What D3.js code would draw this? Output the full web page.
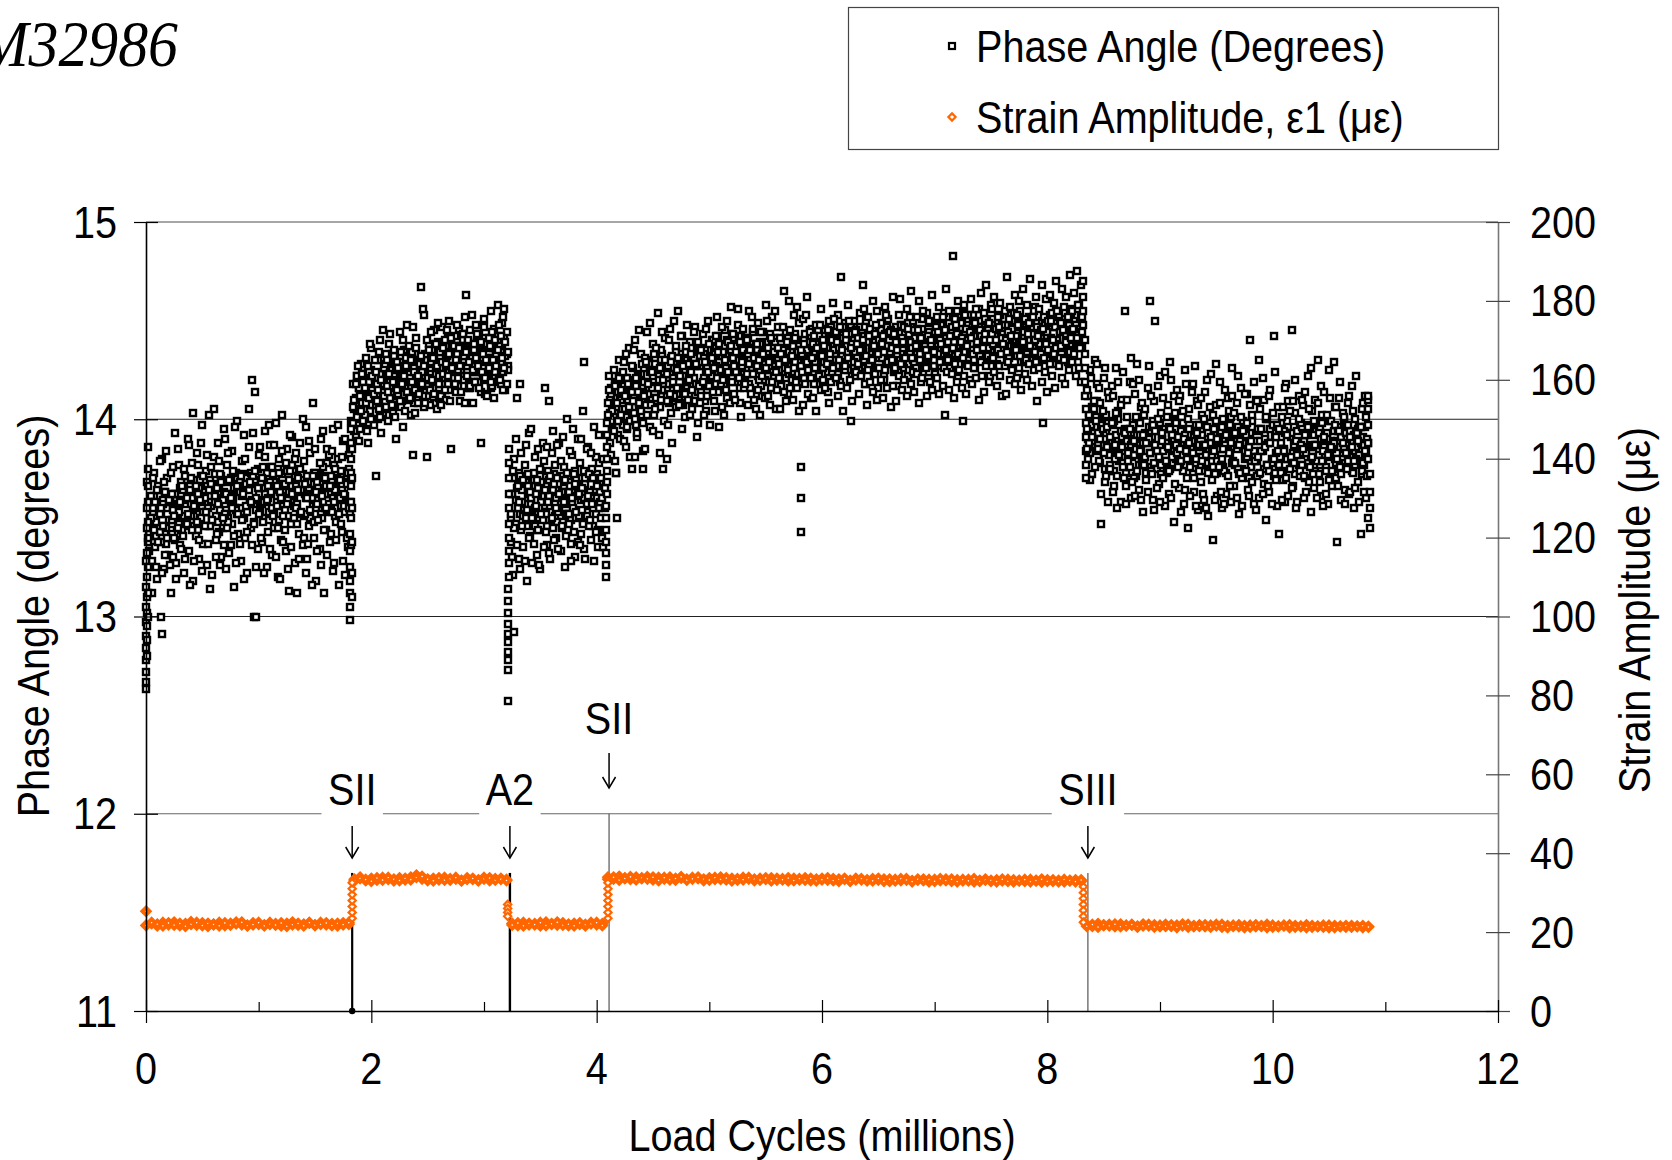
<!DOCTYPE html>
<html><head><meta charset="utf-8">
<script src="https://cdn.jsdelivr.net/npm/d3@7/dist/d3.min.js"></script>
<style>html,body{margin:0;padding:0;background:#fff}svg{display:block}</style>
</head><body><svg id="chart" width="1672" height="1160"></svg>
<script>
// ---------------- DATA ----------------
const specimenLabel = "M32986";
const legendLabels = ["Phase Angle (Degrees)", "Strain Amplitude, \u03b51 (\u03bc\u03b5)"];
const xTicks = [0, 2, 4, 6, 8, 10, 12];
const xMinorTicks = [1, 3, 5, 7, 9, 11];
const phaseTicks = [11, 12, 13, 14, 15];
const strainTicks = [0, 20, 40, 60, 80, 100, 120, 140, 160, 180, 200];
const phaseGrid = [14, 13, 12];
const annotCycles = [1.83, 3.23, 4.11, 8.36];
const annotLabels = ["SII", "A2", "SII", "SIII"];

// Phase angle (degrees) vs load cycles (millions)
const cyclesA = [0.03,0.04,0.05,0.06,0.07,0.08,0.09,0.10,0.11,0.12,
0.13,0.14,0.15,0.16,0.17,0.18,0.19,0.20,0.21,0.22,
0.23,0.24,0.25,0.26,0.27,0.28,0.29,0.30,0.31,0.32,
0.33,0.34,0.35,0.36,0.37,0.38,0.39,0.40,0.41,0.42,
0.43,0.44,0.45,0.46,0.47,0.48,0.49,0.50,0.51,0.52,
0.53,0.54,0.55,0.56,0.57,0.58,0.59,0.60,0.61,0.62,
0.63,0.64,0.65,0.66,0.67,0.68,0.69,0.70,0.71,0.72,
0.73,0.74,0.75,0.76,0.77,0.78,0.79,0.80,0.81,0.82,
0.83,0.84,0.85,0.86,0.87,0.88,0.89,0.90,0.91,0.92,
0.93,0.94,0.95,0.96,0.97,0.98,0.99,1.00,1.01,1.02,
1.03,1.04,1.05,1.06,1.07,1.08,1.09,1.10,1.11,1.12,
1.13,1.14,1.15,1.16,1.17,1.18,1.19,1.20,1.21,1.22,
1.23,1.24,1.25,1.26,1.27,1.28,1.29,1.30,1.31,1.32,
1.33,1.34,1.35,1.36,1.37,1.38,1.39,1.40,1.41,1.42,
1.43,1.44,1.45,1.46,1.47,1.48,1.49,1.50,1.51,1.52,
1.53,1.54,1.55,1.56,1.57,1.58,1.59,1.60,1.61,1.62,
1.63,1.64,1.65,1.66,1.67,1.68,1.69,1.70,1.71,1.72,
1.73,1.74,1.75,1.76,1.77,1.78,1.79,1.80,1.81,1.82];
const phaseA1 = [13.42,13.61,13.28,13.55,13.73,13.35,13.48,13.19,13.66,13.52,
13.38,13.80,13.57,13.24,13.63,13.45,13.70,13.31,13.58,13.12,
13.49,13.76,13.40,13.62,13.27,13.85,13.53,13.36,13.68,13.44,
13.59,13.22,13.71,13.47,13.90,13.33,13.64,13.51,13.78,13.18,
13.56,13.41,13.83,13.62,13.29,13.69,13.50,13.97,13.37,13.60,
13.74,13.26,13.55,14.02,13.46,13.67,13.21,13.81,13.58,13.39,
13.65,13.88,13.43,13.72,13.30,13.59,13.95,13.52,13.24,13.77,
13.48,13.69,13.36,13.84,13.61,13.15,13.73,13.54,13.99,13.42,
13.63,13.28,13.79,13.50,13.92,13.40,13.67,13.22,13.86,13.57,
13.45,14.20,13.71,13.00,14.14,13.60,13.34,13.82,13.53,13.68,
13.38,13.76,13.58,13.94,13.25,13.66,13.49,13.87,13.62,13.31,
13.72,13.45,13.98,13.56,13.20,13.80,13.63,13.39,14.02,13.51,
13.67,13.33,13.85,13.59,13.13,13.74,13.47,13.91,13.61,13.27,
13.55,13.12,13.70,13.42,13.88,13.64,13.36,13.79,13.52,13.96,
13.29,13.68,13.46,13.83,13.60,14.08,13.40,13.73,13.18,13.57,
13.65,13.34,13.90,13.50,13.76,13.12,13.62,13.44,13.85,13.57,
13.38,13.71,13.53,13.95,13.27,13.64,13.48,13.80,13.16,13.60,
13.74,13.43,13.89,13.56,13.21,13.67,13.35,13.82,13.52,13.99];
const phaseA2 = [13.33,13.50,13.12,13.70,13.44,13.58,13.25,13.64,13.38,13.79,
13.55,13.22,13.46,13.68,13.31,13.84,13.40,13.59,13.26,13.73,
13.62,13.30,13.51,13.93,13.19,13.45,13.77,13.58,13.34,13.66,
13.41,13.75,13.29,13.60,13.52,13.87,13.16,13.70,13.44,14.03,
13.28,13.66,13.48,13.77,13.39,13.59,13.88,13.23,13.71,13.46,
13.53,13.82,13.37,13.64,13.14,13.76,13.49,14.05,13.61,13.30,
13.42,13.57,13.79,13.26,13.68,13.50,13.36,13.90,13.62,13.45,
13.83,13.32,13.60,13.55,13.74,13.41,13.96,13.27,13.66,13.52,
13.37,13.71,13.49,13.62,13.19,13.80,13.56,13.43,14.05,13.68,
13.58,13.36,13.93,13.47,13.74,13.25,13.65,13.52,13.86,13.40,
13.70,13.48,13.22,13.81,13.59,13.43,13.97,13.34,13.63,13.76,
13.51,13.87,13.30,13.66,13.45,13.73,13.19,13.60,13.84,13.38,
13.44,13.78,13.57,13.24,13.69,13.92,13.35,13.62,13.50,13.80,
13.83,13.47,13.64,13.29,13.75,13.53,14.00,13.40,13.67,13.22,
13.60,13.37,13.89,13.54,13.16,13.71,13.48,13.85,13.63,13.33,
13.49,13.78,13.26,13.61,13.94,13.44,13.70,13.55,13.31,13.82,
13.66,13.42,13.84,13.23,13.58,13.75,13.39,13.97,13.52,13.69,
13.47,13.81,13.28,13.62,13.90,13.40,13.73,13.55,13.85,13.36];
const phaseA3 = [13.45,13.58,13.38,13.53,13.61,13.48,13.41,13.56,13.64,13.43,
13.52,13.40,13.59,13.46,13.63,13.37,13.55,13.49,13.60,13.44,
13.42,13.54,13.62,13.39,13.51,13.57,13.47,13.65,13.44,13.59,
13.64,13.51,13.57,13.68,13.46,13.62,13.66,13.49,13.60,13.54,
13.69,13.55,13.63,13.44,13.65,13.50,13.71,13.58,13.53,13.61,
13.53,13.66,13.46,13.61,13.69,13.56,13.49,13.64,13.72,13.51,
13.60,13.48,13.67,13.54,13.71,13.45,13.63,13.57,13.68,13.52,
13.50,13.62,13.70,13.47,13.59,13.65,13.55,13.73,13.52,13.67,
13.68,13.55,13.61,13.72,13.50,13.66,13.70,13.53,13.64,13.58,
13.73,13.59,13.67,13.48,13.69,13.54,13.75,13.62,13.57,13.65,
13.57,13.70,13.50,13.65,13.73,13.60,13.53,13.68,13.76,13.55,
13.64,13.52,13.71,13.58,13.75,13.49,13.67,13.61,13.72,13.56,
13.54,13.66,13.74,13.51,13.63,13.69,13.59,13.77,13.56,13.71,
13.66,13.57,13.63,13.74,13.52,13.64,13.72,13.51,13.62,13.60,
13.71,13.61,13.65,13.50,13.67,13.56,13.73,13.64,13.55,13.68,
13.59,13.72,13.52,13.63,13.71,13.62,13.55,13.66,13.78,13.53,
13.62,13.54,13.69,13.60,13.77,13.51,13.65,13.59,13.70,13.58,
13.56,13.64,13.72,13.53,13.61,13.71,13.57,13.75,13.58,13.69];

const cyclesB = [1.84,1.85,1.86,1.87,1.88,1.89,1.90,1.91,1.92,1.93,
1.94,1.95,1.96,1.97,1.98,1.99,2.00,2.01,2.02,2.03,
2.04,2.05,2.06,2.07,2.08,2.09,2.10,2.11,2.12,2.13,
2.14,2.15,2.16,2.17,2.18,2.19,2.20,2.21,2.22,2.23,
2.24,2.25,2.26,2.27,2.28,2.29,2.30,2.31,2.32,2.33,
2.34,2.35,2.36,2.37,2.38,2.39,2.40,2.41,2.42,2.43,
2.44,2.45,2.46,2.47,2.48,2.49,2.50,2.51,2.52,2.53,
2.54,2.55,2.56,2.57,2.58,2.59,2.60,2.61,2.62,2.63,
2.64,2.65,2.66,2.67,2.68,2.69,2.70,2.71,2.72,2.73,
2.74,2.75,2.76,2.77,2.78,2.79,2.80,2.81,2.82,2.83,
2.84,2.85,2.86,2.87,2.88,2.89,2.90,2.91,2.92,2.93,
2.94,2.95,2.96,2.97,2.98,2.99,3.00,3.01,3.02,3.03,
3.04,3.05,3.06,3.07,3.08,3.09,3.10,3.11,3.12,3.13,
3.14,3.15,3.16,3.17,3.18,3.19,3.20,3.21];
const phaseB1 = [13.98,14.10,13.92,14.22,14.05,14.16,13.95,14.28,14.08,14.19,
14.02,14.31,14.12,13.88,14.24,14.07,14.36,14.15,13.97,14.21,
13.71,14.18,14.30,14.05,14.40,13.93,14.14,14.26,14.09,14.33,
14.17,13.99,14.38,14.11,14.25,14.03,14.32,14.20,13.90,14.29,
14.13,14.44,14.06,14.23,13.96,14.35,14.16,14.27,14.48,14.10,
14.21,14.02,14.34,13.82,14.26,14.15,14.41,14.08,14.30,14.19,
14.67,14.24,14.12,14.53,14.33,13.81,14.20,14.38,14.07,14.29,
14.35,14.16,14.45,14.26,14.05,14.39,14.22,14.31,14.12,14.47,
14.23,14.40,14.10,14.32,14.18,14.50,14.27,13.85,14.36,14.21,
14.42,14.14,14.33,14.25,14.46,14.09,14.37,14.20,14.29,14.52,
14.63,14.27,14.39,14.16,14.45,14.31,14.08,14.35,14.24,14.48,
14.30,14.19,14.43,13.88,14.34,14.26,14.51,14.13,14.38,14.22,
14.41,14.28,14.55,14.17,14.36,14.46,14.24,14.33,14.58,14.21,
14.37,14.29,14.49,14.15,14.56,14.32,14.44,14.25];
const phaseB2 = [14.06,13.94,14.18,14.01,14.27,13.89,14.12,14.04,14.23,13.99,
14.16,14.08,13.94,14.27,14.11,14.38,14.00,14.22,14.13,14.30,
14.24,14.09,14.15,14.34,14.01,14.20,14.45,14.12,14.28,14.06,
14.30,14.14,14.23,14.43,14.07,14.19,14.35,14.01,14.26,14.15,
14.26,14.09,14.34,14.18,14.40,14.22,14.04,14.31,14.14,14.37,
14.11,14.30,14.19,14.47,14.24,14.03,14.36,14.22,14.13,14.28,
14.32,14.18,14.56,14.27,14.08,14.40,14.21,14.35,14.15,14.44,
14.20,14.31,14.13,14.38,14.27,14.49,14.18,14.34,14.07,14.29,
14.36,14.15,14.28,14.45,14.22,14.33,14.09,14.41,14.26,14.37,
14.18,14.30,14.48,14.21,14.36,14.27,14.14,14.43,14.32,14.08,
14.34,14.22,14.40,14.29,14.17,14.53,14.25,14.38,14.19,14.31,
14.43,14.27,14.16,14.39,14.24,14.33,14.47,14.21,14.30,14.12,
14.26,14.37,14.19,14.44,14.30,14.11,14.40,14.27,14.35,14.48,
14.20,14.42,14.31,14.52,14.26,14.39,14.18,14.34];
const phaseB3 = [14.18,14.05,14.11,14.22,14.00,14.16,14.20,14.03,14.14,14.08,
14.23,14.09,14.17,13.98,14.19,14.04,14.25,14.12,14.07,14.15,
14.07,14.20,14.00,14.15,14.23,14.10,14.03,14.18,14.26,14.05,
14.22,14.10,14.29,14.16,14.33,14.07,14.25,14.19,14.30,14.14,
14.12,14.24,14.32,14.09,14.21,14.27,14.17,14.35,14.14,14.29,
14.26,14.13,14.19,14.30,14.08,14.24,14.28,14.11,14.22,14.16,
14.31,14.17,14.25,14.06,14.27,14.12,14.33,14.20,14.15,14.23,
14.15,14.28,14.08,14.23,14.31,14.18,14.11,14.26,14.34,14.13,
14.30,14.18,14.37,14.24,14.41,14.15,14.33,14.27,14.38,14.22,
14.20,14.32,14.40,14.17,14.29,14.35,14.25,14.43,14.22,14.37,
14.34,14.21,14.27,14.38,14.16,14.32,14.36,14.19,14.30,14.24,
14.39,14.25,14.33,14.14,14.35,14.20,14.41,14.28,14.23,14.31,
14.23,14.36,14.16,14.31,14.39,14.26,14.19,14.34,14.42,14.21,
14.30,14.18,14.37,14.24,14.41,14.15,14.33,14.27];

const cyclesC = [3.24,3.25,3.26,3.27,3.28,3.29,3.30,3.31,3.32,3.33,
3.34,3.35,3.36,3.37,3.38,3.39,3.40,3.41,3.42,3.43,
3.44,3.45,3.46,3.47,3.48,3.49,3.50,3.51,3.52,3.53,
3.54,3.55,3.56,3.57,3.58,3.59,3.60,3.61,3.62,3.63,
3.64,3.65,3.66,3.67,3.68,3.69,3.70,3.71,3.72,3.73,
3.74,3.75,3.76,3.77,3.78,3.79,3.80,3.81,3.82,3.83,
3.84,3.85,3.86,3.87,3.88,3.89,3.90,3.91,3.92,3.93,
3.94,3.95,3.96,3.97,3.98,3.99,4.00,4.01,4.02,4.03];
const phaseC1 = [13.38,13.62,13.21,13.80,13.47,14.11,13.55,13.29,13.71,13.44,
13.58,13.35,13.77,13.50,13.18,13.66,13.93,13.41,13.60,13.27,
13.73,13.46,13.62,13.31,13.85,13.55,13.24,13.68,13.49,13.79,
14.16,13.52,13.36,13.74,13.61,13.29,13.83,13.45,13.67,13.57,
13.40,13.70,13.53,13.88,13.33,13.63,13.48,13.76,13.25,13.59,
14.00,13.47,13.66,13.37,13.82,13.55,13.72,13.30,13.61,13.90,
13.51,13.78,13.42,13.65,14.04,13.34,13.70,13.57,13.86,13.46,
13.63,13.39,13.75,13.55,13.28,13.81,13.60,13.44,13.92,13.68];
const phaseC2 = [13.52,13.30,13.74,13.45,13.90,13.36,13.66,13.58,13.24,13.83,
13.46,13.69,13.28,13.87,13.54,13.72,13.40,13.63,13.95,13.50,
13.37,13.81,13.56,13.69,13.44,13.26,13.75,13.52,13.88,13.35,
13.64,13.43,13.86,13.58,13.32,13.71,13.50,13.94,13.39,13.77,
13.55,13.87,13.34,13.62,13.79,13.46,13.91,13.58,13.69,13.41,
13.73,13.52,13.84,13.28,13.60,13.95,13.43,13.67,13.53,13.38,
13.62,13.36,13.90,13.54,13.47,13.74,13.29,13.85,13.61,13.72,
13.49,13.83,13.57,13.70,13.96,13.43,13.66,13.35,13.78,13.58];
const phaseC3 = [13.50,13.62,13.70,13.47,13.59,13.65,13.55,13.73,13.52,13.67,
13.64,13.51,13.57,13.68,13.46,13.62,13.66,13.49,13.60,13.54,
13.69,13.55,13.63,13.44,13.65,13.50,13.71,13.58,13.53,13.61,
13.53,13.66,13.46,13.61,13.69,13.56,13.49,13.64,13.72,13.51,
13.60,13.48,13.67,13.54,13.71,13.45,13.63,13.57,13.68,13.52,
13.52,13.63,13.68,13.49,13.57,13.66,13.54,13.74,13.50,13.65,
13.66,13.53,13.59,13.70,13.48,13.60,13.67,13.51,13.62,13.56,
13.70,13.57,13.61,13.46,13.64,13.52,13.72,13.59,13.55,13.63];

const cyclesD = [4.12,4.13,4.14,4.15,4.16,4.17,4.18,4.19,4.20,4.21,
4.22,4.23,4.24,4.25,4.26,4.27,4.28,4.29,4.30,4.31,
4.32,4.33,4.34,4.35,4.36,4.37,4.38,4.39,4.40,4.41,
4.42,4.43,4.44,4.45,4.46,4.47,4.48,4.49,4.50,4.51,
4.52,4.53,4.54,4.55,4.56,4.57,4.58,4.59,4.60,4.61,
4.62,4.63,4.64,4.65,4.66,4.67,4.68,4.69,4.70,4.71,
4.72,4.73,4.74,4.75,4.76,4.77,4.78,4.79,4.80,4.81,
4.82,4.83,4.84,4.85,4.86,4.87,4.88,4.89,4.90,4.91,
4.92,4.93,4.94,4.95,4.96,4.97,4.98,4.99,5.00,5.01,
5.02,5.03,5.04,5.05,5.06,5.07,5.08,5.09,5.10,5.11,
5.12,5.13,5.14,5.15,5.16,5.17,5.18,5.19,5.20,5.21,
5.22,5.23,5.24,5.25,5.26,5.27,5.28,5.29,5.30,5.31,
5.32,5.33,5.34,5.35,5.36,5.37,5.38,5.39,5.40,5.41,
5.42,5.43,5.44,5.45,5.46,5.47,5.48,5.49,5.50,5.51,
5.52,5.53,5.54,5.55,5.56,5.57,5.58,5.59,5.60,5.61,
5.62,5.63,5.64,5.65,5.66,5.67,5.68,5.69,5.70,5.71,
5.72,5.73,5.74,5.75,5.76,5.77,5.78,5.79,5.80,5.81,
5.82,5.83,5.84,5.85,5.86,5.87,5.88,5.89,5.90,5.91,
5.92,5.93,5.94,5.95,5.96,5.97,5.98,5.99,6.00,6.01,
6.02,6.03,6.04,6.05,6.06,6.07,6.08,6.09,6.10,6.11,
6.12,6.13,6.14,6.15,6.16,6.17,6.18,6.19,6.20,6.21,
6.22,6.23,6.24,6.25,6.26,6.27,6.28,6.29,6.30,6.31,
6.32,6.33,6.34,6.35,6.36,6.37,6.38,6.39,6.40,6.41,
6.42,6.43,6.44,6.45,6.46,6.47,6.48,6.49,6.50,6.51,
6.52,6.53,6.54,6.55,6.56,6.57,6.58,6.59,6.60,6.61,
6.62,6.63,6.64,6.65,6.66,6.67,6.68,6.69,6.70,6.71,
6.72,6.73,6.74,6.75,6.76,6.77,6.78,6.79,6.80,6.81,
6.82,6.83,6.84,6.85,6.86,6.87,6.88,6.89,6.90,6.91,
6.92,6.93,6.94,6.95,6.96,6.97,6.98,6.99,7.00,7.01,
7.02,7.03,7.04,7.05,7.06,7.07,7.08,7.09,7.10,7.11,
7.12,7.13,7.14,7.15,7.16,7.17,7.18,7.19,7.20,7.21,
7.22,7.23,7.24,7.25,7.26,7.27,7.28,7.29,7.30,7.31,
7.32,7.33,7.34,7.35,7.36,7.37,7.38,7.39,7.40,7.41,
7.42,7.43,7.44,7.45,7.46,7.47,7.48,7.49,7.50,7.51,
7.52,7.53,7.54,7.55,7.56,7.57,7.58,7.59,7.60,7.61,
7.62,7.63,7.64,7.65,7.66,7.67,7.68,7.69,7.70,7.71,
7.72,7.73,7.74,7.75,7.76,7.77,7.78,7.79,7.80,7.81,
7.82,7.83,7.84,7.85,7.86,7.87,7.88,7.89,7.90,7.91,
7.92,7.93,7.94,7.95,7.96,7.97,7.98,7.99,8.00,8.01,
8.02,8.03,8.04,8.05,8.06,8.07,8.08,8.09,8.10,8.11,
8.12,8.13,8.14,8.15,8.16,8.17,8.18,8.19,8.20,8.21,
8.22,8.23,8.24,8.25,8.26,8.27,8.28,8.29,8.30,8.31];
const phaseD1 = [13.88,14.12,13.95,14.25,13.79,14.06,14.18,13.92,14.30,14.01,
14.15,13.97,14.29,14.05,13.86,14.21,14.10,14.36,13.99,14.14,
14.26,14.03,14.40,14.17,13.91,14.22,14.08,14.33,14.12,13.84,
14.19,14.31,14.07,14.44,14.13,13.96,14.25,14.16,14.38,14.02,
14.28,14.11,14.54,14.20,14.06,14.35,14.15,13.75,14.24,14.41,
14.09,14.27,14.18,14.46,14.03,14.32,14.21,14.12,14.37,14.25,
14.55,14.16,14.30,14.08,14.42,14.22,14.01,14.34,14.19,14.28,
14.13,14.39,14.24,14.05,14.31,14.47,14.18,14.27,13.98,14.35,
14.29,14.12,14.43,14.21,14.36,14.04,14.26,14.50,14.17,14.32,
14.22,14.40,14.09,14.33,14.27,14.52,14.14,14.38,14.25,14.06,
14.34,14.18,14.45,14.26,14.11,14.39,14.29,14.57,14.21,14.31,
14.13,14.37,14.24,14.48,14.30,14.08,14.42,14.27,14.35,14.19,
14.41,14.23,14.33,14.55,14.16,14.36,14.28,14.46,14.10,14.32,
14.27,14.49,14.20,14.38,14.31,14.12,14.44,14.25,14.58,14.34,
14.36,14.19,14.43,14.30,14.52,14.22,14.39,14.05,14.33,14.47,
14.28,14.41,14.17,14.35,14.65,14.26,14.44,14.31,14.13,14.38,
14.45,14.24,14.37,14.53,14.29,14.40,14.16,14.34,14.49,14.27,
14.33,14.51,14.21,14.43,14.30,14.62,14.25,14.39,14.11,14.46,
14.38,14.18,14.34,14.48,14.26,14.42,14.32,14.56,14.23,14.40,
14.29,14.45,14.36,14.14,14.50,14.31,14.41,14.24,14.59,14.35,
14.44,14.27,14.53,14.36,14.19,14.72,14.32,14.47,14.25,14.40,
14.34,14.58,14.29,14.43,13.99,14.38,14.50,14.22,14.45,14.31,
14.41,14.26,14.54,14.35,14.68,14.30,14.47,14.18,14.39,14.52,
14.27,14.46,14.36,14.60,14.24,14.43,14.33,14.55,14.16,14.40,
14.49,14.31,14.42,14.20,14.57,14.37,14.28,14.51,14.34,14.45,
14.36,14.62,14.25,14.44,14.39,14.17,14.53,14.30,14.48,14.41,
14.29,14.47,14.38,14.56,14.22,14.43,14.34,14.65,14.31,14.50,
14.45,14.26,14.52,14.37,14.60,14.33,14.19,14.46,14.40,14.28,
14.35,14.54,14.42,14.24,14.49,14.38,14.63,14.30,14.44,14.21,
14.48,14.33,14.57,14.40,14.27,14.52,14.36,14.45,14.66,14.31,
14.39,14.55,14.30,14.47,14.83,14.36,14.51,14.24,14.43,14.60,
14.34,14.49,14.41,13.99,14.58,14.38,14.46,14.28,14.53,14.44,
14.61,14.35,14.50,14.42,14.26,14.56,14.39,14.47,14.32,14.64,
14.45,14.30,14.54,14.40,14.68,14.36,14.49,14.22,14.58,14.43,
14.38,14.62,14.46,14.33,14.52,14.27,14.59,14.41,14.48,14.35,
14.55,14.40,14.72,14.44,14.31,14.57,14.37,14.50,14.26,14.63,
14.42,14.53,14.35,14.60,14.47,14.39,14.66,14.29,14.51,14.45,
14.58,14.36,14.49,14.71,14.43,14.30,14.55,14.40,14.62,14.47,
14.34,14.56,14.45,14.68,13.98,14.52,14.39,14.61,14.44,14.50,
14.63,14.41,14.54,14.32,14.59,14.47,14.70,14.38,14.53,14.44,
14.49,14.66,14.36,14.57,14.45,14.62,14.29,14.51,14.73,14.42,
14.55,14.40,14.64,14.48,14.75,14.37,14.58,14.46,14.68,14.52];
const phaseD2 = [14.10,13.82,14.04,13.94,14.17,13.73,14.08,13.99,14.21,13.90,
14.02,14.24,13.89,14.12,14.33,13.96,14.18,14.06,13.81,14.27,
14.09,14.35,14.00,14.21,13.93,14.14,14.45,14.04,14.28,13.98,
14.12,13.85,14.29,14.02,14.18,14.49,14.07,14.24,13.94,14.33,
14.05,14.36,14.16,13.92,14.26,14.10,14.44,14.20,13.99,14.30,
14.23,13.97,14.40,14.13,14.29,13.88,14.19,14.50,14.06,14.16,
14.31,14.07,14.22,14.42,13.95,14.27,14.13,14.37,14.48,14.10,
14.20,14.02,14.33,14.15,14.44,14.09,14.28,13.91,14.39,14.17,
14.08,14.35,14.19,14.02,14.29,14.46,14.12,14.24,14.38,13.97,
14.31,14.14,14.26,14.04,14.42,14.21,14.34,13.96,14.18,14.47,
14.20,14.02,14.30,14.15,14.50,14.24,14.08,14.37,14.19,14.43,
14.27,14.10,14.34,14.56,14.21,14.39,14.01,14.29,14.46,14.16,
14.18,14.40,14.07,14.28,14.35,14.13,14.52,14.23,14.31,14.05,
14.38,14.15,14.30,14.02,14.44,14.22,14.33,14.11,14.26,14.50,
14.12,14.29,14.07,14.41,14.19,14.34,14.55,14.24,14.15,14.36,
14.21,14.05,14.33,14.47,14.14,14.30,14.09,14.39,14.25,14.60,
14.16,14.32,14.10,14.26,14.41,14.19,14.57,14.23,14.04,14.35,
14.24,14.07,14.38,14.18,14.53,14.29,14.13,14.44,14.21,14.31,
14.11,14.42,14.26,14.04,14.36,14.22,14.48,14.15,14.32,14.20,
14.37,14.16,14.28,14.45,14.08,14.33,14.19,14.40,14.26,14.51,
14.21,14.39,14.12,14.30,14.47,14.17,14.35,14.04,14.27,14.43,
14.16,14.31,14.50,14.20,14.36,14.09,14.29,14.44,14.24,14.38,
14.28,14.13,14.35,14.22,14.40,14.56,14.18,14.32,14.07,14.25,
14.42,14.19,14.30,14.14,14.37,14.23,14.48,14.10,14.33,14.26,
14.20,14.38,14.11,14.34,14.25,14.53,14.16,14.29,14.44,14.06,
14.30,14.17,14.43,14.26,14.09,14.35,14.22,14.61,14.28,14.15,
14.39,14.20,14.31,14.12,14.46,14.25,14.52,14.18,14.36,14.24,
14.14,14.37,14.23,14.45,14.08,14.30,14.41,14.21,14.55,14.27,
14.26,14.12,14.32,14.50,14.19,14.40,14.15,14.34,14.23,14.47,
14.21,14.44,14.13,14.29,14.38,14.17,14.26,14.02,14.35,14.24,
14.30,14.15,14.42,14.23,14.36,14.11,14.28,14.48,14.19,14.33,
14.25,14.39,14.16,14.31,14.22,14.53,14.13,14.37,14.27,14.20,
14.41,14.18,14.33,14.26,14.49,14.21,14.35,14.10,14.45,14.29,
14.22,14.36,14.14,14.43,14.27,14.32,14.19,14.40,14.30,14.56,
14.31,14.24,14.40,14.17,14.35,14.47,14.22,14.33,14.12,14.38,
14.27,14.13,14.34,14.29,14.51,14.20,14.42,14.25,14.36,14.18,
14.35,14.21,14.48,14.26,14.32,14.15,14.39,14.44,14.23,14.30,
14.20,14.43,14.28,14.37,14.17,14.52,14.25,14.34,14.29,14.09,
14.42,14.26,14.33,14.19,14.46,14.31,14.24,14.38,14.14,14.35,
14.28,14.50,14.22,14.40,14.33,14.16,14.36,14.55,14.27,14.31,
14.37,14.21,14.45,14.30,14.18,14.39,14.52,14.25,14.34,14.41,
14.29,14.46,14.33,14.22,14.41,14.58,14.26,14.36,14.19,14.44];
const phaseD3 = [14.03,14.16,13.96,14.11,14.19,14.06,13.99,14.14,14.22,14.01,
14.10,13.98,14.17,14.04,14.21,13.95,14.13,14.07,14.18,14.02,
14.00,14.12,14.20,13.97,14.09,14.15,14.05,14.23,14.02,14.17,
14.26,14.13,14.19,14.30,14.08,14.24,14.28,14.11,14.22,14.16,
14.31,14.17,14.25,14.06,14.27,14.12,14.33,14.20,14.15,14.23,
14.15,14.28,14.08,14.23,14.31,14.18,14.11,14.26,14.34,14.13,
14.22,14.10,14.29,14.16,14.33,14.07,14.25,14.19,14.30,14.14,
14.12,14.24,14.32,14.09,14.21,14.27,14.17,14.35,14.14,14.29,
14.27,14.14,14.18,14.31,14.09,14.23,14.29,14.12,14.21,14.17,
14.40,14.26,14.34,14.15,14.36,14.21,14.42,14.29,14.24,14.32,
14.24,14.37,14.17,14.32,14.40,14.27,14.20,14.35,14.43,14.22,
14.31,14.19,14.38,14.25,14.42,14.16,14.34,14.28,14.39,14.23,
14.21,14.33,14.41,14.18,14.30,14.36,14.26,14.44,14.23,14.38,
14.35,14.22,14.28,14.39,14.17,14.33,14.37,14.20,14.31,14.25,
14.39,14.27,14.33,14.16,14.37,14.22,14.41,14.30,14.25,14.31,
14.25,14.36,14.18,14.31,14.41,14.28,14.21,14.34,14.42,14.23,
14.30,14.20,14.37,14.26,14.43,14.17,14.33,14.29,14.38,14.24,
14.22,14.32,14.40,14.19,14.31,14.35,14.27,14.45,14.22,14.37,
14.34,14.23,14.29,14.38,14.18,14.32,14.36,14.21,14.30,14.26,
14.46,14.32,14.40,14.21,14.42,14.27,14.48,14.35,14.30,14.38,
14.30,14.43,14.23,14.38,14.46,14.33,14.26,14.41,14.49,14.28,
14.37,14.25,14.44,14.31,14.48,14.22,14.40,14.34,14.45,14.29,
14.27,14.39,14.47,14.24,14.36,14.42,14.32,14.50,14.29,14.44,
14.41,14.28,14.34,14.45,14.23,14.39,14.43,14.26,14.37,14.31,
14.45,14.33,14.39,14.22,14.43,14.28,14.47,14.36,14.31,14.37,
14.31,14.42,14.24,14.37,14.47,14.32,14.27,14.40,14.48,14.29,
14.36,14.26,14.43,14.32,14.49,14.23,14.39,14.35,14.44,14.30,
14.28,14.38,14.46,14.25,14.37,14.41,14.33,14.51,14.28,14.43,
14.40,14.29,14.35,14.44,14.24,14.38,14.42,14.27,14.36,14.32,
14.52,14.38,14.46,14.27,14.48,14.33,14.54,14.41,14.36,14.44,
14.36,14.49,14.29,14.44,14.52,14.39,14.32,14.47,14.55,14.34,
14.43,14.31,14.50,14.37,14.54,14.28,14.46,14.40,14.51,14.35,
14.33,14.45,14.53,14.30,14.42,14.48,14.38,14.56,14.35,14.50,
14.47,14.34,14.40,14.51,14.29,14.45,14.49,14.32,14.43,14.37,
14.51,14.39,14.45,14.28,14.49,14.34,14.53,14.42,14.37,14.43,
14.37,14.48,14.30,14.43,14.53,14.38,14.33,14.46,14.54,14.35,
14.42,14.32,14.49,14.38,14.55,14.29,14.45,14.41,14.50,14.36,
14.34,14.44,14.52,14.31,14.43,14.47,14.39,14.57,14.34,14.49,
14.46,14.35,14.41,14.50,14.30,14.44,14.48,14.33,14.42,14.38,
14.53,14.37,14.47,14.28,14.49,14.34,14.55,14.40,14.37,14.45,
14.37,14.50,14.30,14.45,14.51,14.40,14.33,14.48,14.56,14.35,
14.44,14.32,14.51,14.38,14.53,14.29,14.47,14.41,14.52,14.36];

const cyclesE = [8.36,8.37,8.38,8.39,8.40,8.41,8.42,8.43,8.44,8.45,
8.46,8.47,8.48,8.49,8.50,8.51,8.52,8.53,8.54,8.55,
8.56,8.57,8.58,8.59,8.60,8.61,8.62,8.63,8.64,8.65,
8.66,8.67,8.68,8.69,8.70,8.71,8.72,8.73,8.74,8.75,
8.76,8.77,8.78,8.79,8.80,8.81,8.82,8.83,8.84,8.85,
8.86,8.87,8.88,8.89,8.90,8.91,8.92,8.93,8.94,8.95,
8.96,8.97,8.98,8.99,9.00,9.01,9.02,9.03,9.04,9.05,
9.06,9.07,9.08,9.09,9.10,9.11,9.12,9.13,9.14,9.15,
9.16,9.17,9.18,9.19,9.20,9.21,9.22,9.23,9.24,9.25,
9.26,9.27,9.28,9.29,9.30,9.31,9.32,9.33,9.34,9.35,
9.36,9.37,9.38,9.39,9.40,9.41,9.42,9.43,9.44,9.45,
9.46,9.47,9.48,9.49,9.50,9.51,9.52,9.53,9.54,9.55,
9.56,9.57,9.58,9.59,9.60,9.61,9.62,9.63,9.64,9.65,
9.66,9.67,9.68,9.69,9.70,9.71,9.72,9.73,9.74,9.75,
9.76,9.77,9.78,9.79,9.80,9.81,9.82,9.83,9.84,9.85,
9.86,9.87,9.88,9.89,9.90,9.91,9.92,9.93,9.94,9.95,
9.96,9.97,9.98,9.99,10.00,10.01,10.02,10.03,10.04,10.05,
10.06,10.07,10.08,10.09,10.10,10.11,10.12,10.13,10.14,10.15,
10.16,10.17,10.18,10.19,10.20,10.21,10.22,10.23,10.24,10.25,
10.26,10.27,10.28,10.29,10.30,10.31,10.32,10.33,10.34,10.35,
10.36,10.37,10.38,10.39,10.40,10.41,10.42,10.43,10.44,10.45,
10.46,10.47,10.48,10.49,10.50,10.51,10.52,10.53,10.54,10.55,
10.56,10.57,10.58,10.59,10.60,10.61,10.62,10.63,10.64,10.65,
10.66,10.67,10.68,10.69,10.70,10.71,10.72,10.73,10.74,10.75,
10.76,10.77,10.78,10.79,10.80,10.81,10.82,10.83,10.84,10.85];
const phaseE1 = [14.12,13.88,14.25,13.97,13.72,14.05,14.30,13.84,14.18,13.93,
13.79,14.08,13.47,13.95,14.21,13.68,14.02,13.86,14.14,13.74,
13.91,14.17,13.63,13.99,13.80,14.26,13.71,14.04,13.87,13.58,
14.10,13.76,13.94,14.55,13.66,14.01,13.83,14.19,13.60,13.89,
13.97,13.70,14.13,13.85,14.28,13.64,13.92,14.06,13.78,13.53,
14.02,13.81,13.69,14.16,13.90,14.60,13.74,13.96,13.59,14.09,
14.50,13.84,14.00,13.67,14.22,13.77,13.93,14.11,13.56,13.88,
13.73,14.07,13.62,13.95,14.20,13.81,13.48,14.03,13.87,14.15,
13.91,13.65,14.12,13.79,13.98,13.57,14.25,13.84,13.70,13.45,
14.05,13.76,13.89,14.18,13.63,13.94,13.80,14.09,13.54,13.97,
13.68,14.02,13.86,13.59,14.14,13.78,13.96,13.51,13.88,14.23,
13.82,13.39,13.95,13.72,14.07,13.61,13.90,14.19,13.77,13.55,
14.00,13.74,13.87,13.62,14.11,13.83,13.97,13.58,14.26,13.79,
13.66,13.93,14.08,13.75,13.52,13.89,14.16,13.70,13.99,13.84,
13.92,14.13,13.64,13.86,14.40,13.76,14.02,13.57,13.81,14.10,
13.71,13.95,13.60,14.05,13.84,14.21,13.67,13.90,13.49,14.00,
13.88,13.63,14.15,13.78,13.97,14.42,13.73,13.91,13.56,14.06,
13.42,13.85,14.01,13.69,13.94,13.58,14.18,13.80,14.09,13.75,
13.93,14.45,13.66,13.87,14.03,13.55,13.82,14.12,13.71,13.98,
13.77,14.07,13.60,13.92,13.83,14.22,13.68,13.96,13.53,14.04,
13.86,13.65,14.10,13.79,14.30,13.72,13.95,13.61,14.02,13.84,
14.14,13.74,13.90,13.57,14.25,13.81,13.99,13.66,13.88,14.06,
13.70,13.38,13.94,14.11,13.76,13.59,14.03,13.85,13.64,13.97,
13.83,14.08,13.62,13.91,14.17,13.73,13.55,14.00,13.80,13.93,
13.68,13.96,13.42,14.05,13.78,13.87,14.12,13.60,13.90,13.50];
const phaseE2 = [13.80,14.02,13.69,14.21,13.91,14.09,13.76,13.99,14.28,13.85,
14.16,13.90,13.62,14.04,13.83,14.26,13.71,13.96,13.58,14.11,
13.75,13.98,14.12,13.66,13.87,14.03,13.55,14.19,13.82,14.07,
13.86,14.24,13.70,13.93,13.57,14.10,13.79,13.95,14.31,13.68,
14.18,13.89,13.61,14.01,13.74,14.20,13.84,13.59,14.08,13.92,
13.77,14.05,13.88,13.63,14.27,13.83,14.12,13.72,13.97,13.54,
13.94,13.65,14.17,13.81,13.58,14.03,13.89,13.70,14.24,13.79,
14.01,13.86,13.74,14.29,13.60,13.92,14.12,13.67,13.98,13.83,
13.76,14.09,13.85,13.53,14.04,13.90,13.64,14.18,13.80,14.00,
13.88,13.61,14.14,13.83,13.70,14.27,13.56,13.93,14.07,13.74,
14.11,13.79,13.62,14.00,13.87,13.55,14.20,13.73,14.06,13.91,
13.69,14.02,13.84,13.59,14.28,13.90,13.76,14.08,13.63,13.96,
13.85,13.57,14.15,13.92,13.71,14.04,13.66,13.88,14.12,13.78,
14.03,13.78,13.60,14.22,13.87,13.73,14.01,13.56,13.94,14.13,
13.74,13.98,13.83,13.61,14.07,13.89,13.68,14.19,13.79,13.54,
14.09,13.81,14.30,13.73,13.95,13.62,14.10,13.86,14.01,13.77,
13.66,14.12,13.88,13.57,14.03,13.80,14.24,13.69,13.97,13.84,
13.95,13.73,13.59,14.06,13.84,14.16,13.70,13.92,13.61,14.04,
13.81,13.65,14.09,13.78,14.20,13.89,13.58,14.00,13.74,13.87,
14.10,13.85,13.71,14.14,13.63,13.96,14.05,13.76,14.26,13.81,
13.72,13.99,13.87,13.60,14.08,13.93,13.68,14.17,13.79,13.56,
13.91,13.62,14.02,13.82,13.69,14.11,13.86,13.74,14.29,13.97,
14.06,13.80,13.66,13.94,14.19,13.72,13.88,14.01,13.57,13.83,
13.75,13.97,14.12,13.63,13.86,14.04,13.79,13.65,14.22,13.90,
13.89,13.58,13.96,13.74,14.08,13.63,13.84,14.01,13.71,14.10];
const phaseE3 = [13.90,14.03,13.83,13.98,14.06,13.93,13.86,14.01,14.09,13.88,
13.90,13.78,13.97,13.84,14.01,13.75,13.93,13.87,13.98,13.82,
13.77,13.89,13.97,13.74,13.86,13.92,13.82,14.00,13.79,13.94,
13.91,13.78,13.84,13.95,13.73,13.89,13.93,13.76,13.87,13.81,
13.96,13.82,13.90,13.71,13.92,13.77,13.98,13.85,13.80,13.88,
13.80,13.93,13.73,13.88,13.96,13.83,13.76,13.91,13.99,13.78,
13.87,13.75,13.94,13.81,13.98,13.72,13.90,13.84,13.95,13.79,
13.78,13.88,13.96,13.75,13.85,13.93,13.81,13.99,13.80,13.92,
13.90,13.79,13.85,13.94,13.74,13.88,13.92,13.77,13.86,13.82,
13.95,13.83,13.89,13.72,13.91,13.78,13.97,13.86,13.81,13.87,
13.81,13.92,13.74,13.87,13.97,13.82,13.77,13.90,13.98,13.79,
13.86,13.76,13.93,13.82,13.99,13.73,13.89,13.85,13.94,13.80,
13.76,13.90,13.96,13.73,13.87,13.91,13.83,14.01,13.78,13.95,
13.92,13.77,13.85,13.96,13.72,13.90,13.94,13.75,13.88,13.80,
13.97,13.81,13.91,13.70,13.93,13.76,13.99,13.84,13.79,13.89,
13.79,13.94,13.72,13.89,13.95,13.84,13.75,13.92,14.00,13.77,
13.88,13.74,13.95,13.80,13.97,13.71,13.91,13.83,13.96,13.78,
13.77,13.88,13.98,13.74,13.85,13.93,13.81,13.99,13.80,13.93,
13.91,13.79,13.83,13.96,13.72,13.88,13.94,13.77,13.86,13.82,
13.96,13.83,13.89,13.70,13.92,13.78,13.97,13.86,13.81,13.87,
13.80,13.92,13.74,13.87,13.97,13.82,13.77,13.90,13.98,13.79,
13.86,13.76,13.93,13.82,13.99,13.73,13.89,13.85,13.94,13.80,
13.78,13.89,13.96,13.75,13.86,13.91,13.83,14.00,13.78,13.93,
13.90,13.79,13.84,13.94,13.74,13.89,13.92,13.77,13.86,13.81,
13.95,13.82,13.88,13.72,13.91,13.77,13.96,13.84,13.80,13.88];

// transition columns and isolated readings
const phaseEdgeCycles = [0.00,0.00,0.00,0.00,0.00,0.00,0.00,0.00,0.00,0.00,
0.01,0.01,0.01,0.01,0.01,0.01,0.01,0.01,0.01,0.01,
0.02,0.02,0.02,0.02,0.02,0.02,0.02,0.02,0.02,0.02,
0.13,0.14,0.98,
1.81,1.81,1.81,1.81,1.81,1.81,1.81,
1.82,1.82,1.82,1.82,1.82,1.82,1.82,
1.83,1.83,1.83,1.83,1.83,1.83,
3.21,3.21,3.21,3.21,3.21,3.21,3.21,3.21,3.21,3.21,
3.22,3.22,3.22,3.22,3.22,3.22,3.22,3.22,3.22,3.22,
3.27,3.32,3.58,3.89,
4.04,4.04,4.05,4.05,4.06,4.06,4.07,4.07,
4.08,4.08,4.08,4.08,4.08,4.08,4.08,
4.09,4.09,4.09,4.09,4.09,4.09,4.09,
4.10,4.10,4.11,4.11,
4.17,4.18,4.31,4.34,4.41,4.56,4.62,
5.81,5.81,5.81,
8.32,8.32,8.32,8.32,
8.33,8.33,8.33,8.33,8.33,
8.34,8.34,8.34,8.34,8.34,8.34,
8.35,8.35,8.35,
10.86,10.86,10.86,10.86,10.85,10.85,10.85,10.85,10.85];
const phaseEdgeDeg = [12.63,12.67,12.72,12.78,12.84,12.90,12.97,13.05,13.15,13.28,
12.80,12.88,12.95,13.02,13.10,13.20,13.32,13.45,13.55,13.68,
13.00,13.12,13.25,13.38,13.48,13.58,13.66,13.75,13.86,13.40,
13.00,12.91,13.00,
12.98,13.05,13.12,13.18,13.25,13.33,13.42,
13.50,13.58,13.66,13.73,13.80,13.88,13.95,
13.10,13.22,13.38,13.55,13.70,13.85,
12.57,12.73,12.78,12.82,12.87,12.91,12.96,13.02,13.08,13.14,
13.20,13.27,13.33,13.40,13.47,13.55,13.62,13.70,13.78,13.85,
12.92,14.18,14.09,14.29,
13.50,13.70,13.40,13.60,13.80,13.35,13.65,13.55,
13.20,13.26,13.32,13.38,13.44,13.50,13.56,
13.62,13.68,13.74,13.80,13.86,13.92,13.98,
14.02,14.08,14.15,14.22,
13.73,13.50,13.75,13.81,13.75,13.83,13.80,
13.76,13.60,13.43,
14.70,14.62,14.55,14.48,
14.40,14.33,14.26,14.19,14.12,
14.05,13.98,13.91,13.84,13.77,13.70,
13.85,14.15,13.95,
13.45,13.55,13.63,13.72,13.80,13.88,13.97,14.05,14.12];

// Strain amplitude (microstrain) vs load cycles (millions)
const strainCycles = [0.00,0.05,0.10,0.15,0.20,0.25,0.30,0.35,0.40,0.45,0.50,0.55,0.60,0.65,0.70,0.75,0.80,0.85,0.90,0.95,
1.00,1.05,1.10,1.15,1.20,1.25,1.30,1.35,1.40,1.45,1.50,1.55,1.60,1.65,1.70,1.75,1.80,
1.85,1.90,1.95,2.00,2.05,2.10,2.15,2.20,2.25,2.30,2.35,2.40,2.45,2.50,2.55,2.60,2.65,2.70,2.75,2.80,2.85,2.90,2.95,3.00,3.05,3.10,3.15,3.20,
3.25,3.30,3.35,3.40,3.45,3.50,3.55,3.60,3.65,3.70,3.75,3.80,3.85,3.90,3.95,4.00,4.05,
4.10,4.15,4.20,4.25,4.30,4.35,4.40,4.45,4.50,4.55,4.60,4.65,4.70,4.75,4.80,4.85,4.90,4.95,
5.00,5.05,5.10,5.15,5.20,5.25,5.30,5.35,5.40,5.45,5.50,5.55,5.60,5.65,5.70,5.75,5.80,5.85,5.90,5.95,
6.00,6.05,6.10,6.15,6.20,6.25,6.30,6.35,6.40,6.45,6.50,6.55,6.60,6.65,6.70,6.75,6.80,6.85,6.90,6.95,
7.00,7.05,7.10,7.15,7.20,7.25,7.30,7.35,7.40,7.45,7.50,7.55,7.60,7.65,7.70,7.75,7.80,7.85,7.90,7.95,
8.00,8.05,8.10,8.15,8.20,8.25,8.30,
8.35,8.40,8.45,8.50,8.55,8.60,8.65,8.70,8.75,8.80,8.85,8.90,8.95,
9.00,9.05,9.10,9.15,9.20,9.25,9.30,9.35,9.40,9.45,9.50,9.55,9.60,9.65,9.70,9.75,9.80,9.85,9.90,9.95,
10.00,10.05,10.10,10.15,10.20,10.25,10.30,10.35,10.40,10.45,10.50,10.55,10.60,10.65,10.70,10.75,10.80,10.85];
const strainRead1 = [25.3,22.2,21.6,22.4,21.9,22.5,21.7,22.1,22.6,21.8,22.3,21.5,22.0,22.4,21.7,22.2,22.5,21.9,21.6,22.3,
22.0,21.8,22.4,22.1,21.6,22.2,22.5,21.8,22.0,22.3,21.7,22.4,21.9,22.1,21.6,22.3,22.0,
33.4,33.9,33.1,33.6,33.2,33.8,33.4,33.0,33.7,33.3,33.9,34.4,33.5,33.1,33.6,33.3,33.8,33.2,33.5,33.0,33.7,33.4,33.2,33.8,33.1,33.5,33.6,33.3,
22.2,21.7,22.4,21.9,22.1,21.6,22.5,22.0,21.8,22.3,21.7,22.2,22.0,21.6,22.4,21.9,22.1,
33.9,33.5,34.1,33.7,33.4,33.9,33.6,34.0,33.3,33.8,33.5,33.9,33.2,33.7,33.4,33.8,33.6,33.1,33.7,33.4,
33.9,33.3,33.6,33.2,33.8,33.5,33.1,33.6,33.4,33.7,33.2,33.5,33.0,33.6,33.3,33.7,33.1,33.4,33.6,33.2,
33.5,32.9,33.4,33.1,33.6,33.3,33.0,33.5,33.2,33.4,32.9,33.3,33.1,33.5,33.0,33.2,33.4,32.8,33.3,33.1,
33.4,32.9,33.2,33.0,33.3,32.8,33.1,33.4,32.9,33.2,33.0,33.3,32.8,33.1,32.9,33.3,33.0,32.7,33.2,32.9,
33.1,32.8,33.0,33.2,32.9,
21.9,21.5,22.1,21.7,21.9,21.4,22.0,21.6,21.8,21.3,22.0,21.6,21.8,21.4,21.9,21.5,21.7,22.0,21.3,21.6,
21.8,21.4,21.7,21.9,21.3,21.6,21.5,21.8,21.2,21.7,21.4,21.6,21.9,21.3,21.5,21.7,21.2,21.6,21.4,21.8,
21.3,21.5,21.7,21.2,21.6,21.4,21.3,21.6,21.5,21.2,21.4];
const strainRead2 = [21.7,22.4,22.0,21.6,22.3,21.8,22.2,21.5,22.0,22.4,21.7,22.2,21.9,21.6,22.3,21.8,22.1,22.5,21.7,21.9,
22.4,21.6,22.0,21.8,22.3,21.5,21.9,22.2,21.6,22.4,21.8,22.0,22.3,21.7,22.2,21.9,22.4,
33.0,33.6,33.3,32.9,33.7,33.2,33.8,33.4,33.1,33.6,33.3,33.9,34.1,33.4,33.0,33.7,33.2,33.5,33.8,33.1,33.4,33.6,33.0,33.5,33.7,33.2,33.4,33.1,
21.8,22.3,21.6,22.2,21.9,22.4,21.7,22.1,22.5,21.8,22.0,21.6,22.3,21.9,22.1,22.4,21.7,
33.4,33.9,33.2,33.6,34.0,33.3,33.7,33.5,33.9,33.1,33.8,33.3,33.6,34.0,33.2,33.5,33.9,33.4,33.2,33.8,
33.4,33.7,33.0,33.5,33.3,33.8,33.4,33.2,33.7,33.0,33.6,33.3,33.7,33.1,33.5,33.2,33.6,33.0,33.3,33.7,
33.1,33.4,33.6,32.9,33.3,33.5,33.2,33.0,33.6,32.9,33.4,33.0,33.5,33.2,32.8,33.4,33.1,33.3,32.9,33.5,
33.1,33.4,32.8,33.3,33.0,33.5,32.9,33.2,33.1,32.8,33.4,32.9,33.2,33.0,33.3,32.8,33.1,33.4,32.9,33.2,
32.8,33.3,33.1,32.8,33.2,
21.5,21.9,21.3,21.8,21.6,22.0,21.4,21.7,21.9,21.5,21.6,21.9,21.3,21.7,21.5,21.8,21.2,21.6,21.9,21.4,
21.5,21.8,21.3,21.6,21.9,21.2,21.7,21.4,21.6,21.3,21.8,21.5,21.2,21.7,21.4,21.6,21.8,21.3,21.5,21.2,
21.6,21.4,21.3,21.7,21.2,21.5,21.6,21.3,21.4,21.6,21.3];
const strainStepCycles = [1.83,1.83,1.83,1.83,1.83,1.83,1.83, 3.21,3.21,3.21,3.21,
4.10,4.10,4.10,4.10,4.10,4.10,4.10, 8.32,8.32,8.32,8.32,8.32,8.32,8.32];
const strainStepValues = [23.5,25.0,26.5,28.0,29.5,31.0,32.5, 27.0,26.0,25.0,24.0,
23.5,25.0,26.5,28.0,29.5,31.0,32.5, 31.5,30.0,28.5,27.0,25.5,24.0,22.5];

// ---------------- DRAWING ----------------
const W = 1672, H = 1160;
const FONT = '"Liberation Sans", Arial, Helvetica, sans-serif';
const ORANGE = '#ff6600';
const svg = d3.select('#chart');
svg.append('rect').attr('width', W).attr('height', H).attr('fill', '#fff');

const x = d3.scaleLinear().domain([0, 12]).range([146, 1498]);
const yP = d3.scaleLinear().domain([11, 15]).range([1011, 222]);
const yS = d3.scaleLinear().domain([0, 200]).range([1011, 222]);

function txt(g, s, tx, ty, anchor, opts = {}) {
  return g.append('text')
    .attr('transform', `translate(${tx},${ty})${opts.rot ? ' rotate(-90)' : ''} scale(${opts.sx || 0.9},1)`)
    .attr('text-anchor', anchor)
    .style('font-family', opts.family || FONT)
    .style('font-size', (opts.size || 44) + 'px')
    .style('font-style', opts.italic ? 'italic' : 'normal')
    .attr('fill', '#000')
    .text(s);
}

// grid lines
const grid = svg.append('g');
grid.selectAll('line').data(phaseGrid).join('line')
  .attr('x1', x(0)).attr('x2', x(12))
  .attr('y1', d => yP(d)).attr('y2', d => yP(d))
  .attr('stroke', d => d === 12 ? '#666' : '#222').attr('stroke-width', 1.1);
svg.append('line').attr('x1', x(0)).attr('x2', x(12)).attr('y1', yP(15)).attr('y2', yP(15))
  .attr('stroke', '#888').attr('stroke-width', 1.5);

// vertical markers
const vlines = svg.append('g');
vlines.append('line').attr('x1', x(annotCycles[0])).attr('x2', x(annotCycles[0]))
  .attr('y1', yS(35)).attr('y2', yP(11)).attr('stroke', '#000').attr('stroke-width', 2.2);
vlines.append('circle').attr('cx', x(annotCycles[0])).attr('cy', yP(11)).attr('r', 3.2).attr('fill', '#000');
vlines.append('line').attr('x1', x(annotCycles[1])).attr('x2', x(annotCycles[1]))
  .attr('y1', yS(35)).attr('y2', yP(11)).attr('stroke', '#000').attr('stroke-width', 2.4);
vlines.append('line').attr('x1', x(annotCycles[2])).attr('x2', x(annotCycles[2]))
  .attr('y1', yP(12)).attr('y2', yP(11)).attr('stroke', '#555').attr('stroke-width', 1.2);
vlines.append('line').attr('x1', x(annotCycles[3])).attr('x2', x(annotCycles[3]))
  .attr('y1', yS(35)).attr('y2', yP(11)).attr('stroke', '#555').attr('stroke-width', 1.2);

// phase angle points (hollow squares)
const phasePts = [].concat(
  d3.zip(cyclesA, phaseA3), d3.zip(cyclesB, phaseB3), d3.zip(cyclesC, phaseC3),
  d3.zip(cyclesD, phaseD3), d3.zip(cyclesE, phaseE3),
  d3.zip(cyclesA, phaseA1), d3.zip(cyclesA, phaseA2),
  d3.zip(cyclesB, phaseB1), d3.zip(cyclesB, phaseB2),
  d3.zip(cyclesC, phaseC1), d3.zip(cyclesC, phaseC2),
  d3.zip(cyclesD, phaseD1), d3.zip(cyclesD, phaseD2),
  d3.zip(cyclesE, phaseE1), d3.zip(cyclesE, phaseE2),
  d3.zip(phaseEdgeCycles, phaseEdgeDeg));
const SQ = 6;
svg.append('g').selectAll('rect').data(phasePts).join('rect')
  .attr('x', d => Math.round(x(d[0])) - 3).attr('y', d => Math.round(yP(d[1])) - 3)
  .attr('width', SQ).attr('height', SQ)
  .attr('fill', '#fff').attr('stroke', '#000').attr('stroke-width', 2.4);

// strain points
const strainPts = [].concat(d3.zip(strainCycles, strainRead1), d3.zip(strainCycles, strainRead2));
const stepPts = d3.zip(strainStepCycles, strainStepValues);
const diamondPath = r => `M0,${-r}L${r},0L0,${r}L${-r},0Z`;
const sg = svg.append('g');
sg.selectAll('path.lvl').data(strainPts).join('path').attr('class', 'lvl')
  .attr('d', diamondPath(3.6))
  .attr('transform', d => `translate(${x(d[0])},${yS(d[1])})`)
  .attr('fill', '#fff').attr('stroke', ORANGE).attr('stroke-width', 3.8);
sg.selectAll('path.step').data(stepPts).join('path').attr('class', 'step')
  .attr('d', diamondPath(3.6))
  .attr('transform', d => `translate(${x(d[0])},${yS(d[1])})`)
  .attr('fill', '#fff').attr('stroke', ORANGE).attr('stroke-width', 2.2);

// axes
const gL = svg.append('g').attr('transform', `translate(${x(0)},0)`)
  .call(d3.axisLeft(yP).tickValues(phaseTicks).tickFormat('').tickSizeOuter(0));
gL.select('.domain').attr('stroke', '#000').attr('stroke-width', 1.6);
gL.selectAll('.tick line').attr('x1', -12).attr('x2', 12).attr('stroke', '#000').attr('stroke-width', 1.2);

const gR = svg.append('g').attr('transform', `translate(${x(12)},0)`)
  .call(d3.axisRight(yS).tickValues(strainTicks).tickFormat('').tickSizeOuter(0));
gR.select('.domain').attr('stroke', '#777').attr('stroke-width', 1.6);
gR.selectAll('.tick line').attr('x1', -12).attr('x2', 12).attr('stroke', '#444').attr('stroke-width', 1.2);

const gB = svg.append('g').attr('transform', `translate(0,${yP(11)})`)
  .call(d3.axisBottom(x).tickValues(xTicks.concat(xMinorTicks)).tickFormat('').tickSizeOuter(0));
gB.select('.domain').attr('stroke', '#000').attr('stroke-width', 1.6);
gB.selectAll('.tick line')
  .attr('y1', d => xMinorTicks.includes(d) ? -9 : -11)
  .attr('y2', d => xMinorTicks.includes(d) ? 0 : 12)
  .attr('stroke', '#000').attr('stroke-width', 1.2);

// tick labels
const labels = svg.append('g');
phaseTicks.forEach(v => txt(labels, String(v), 117, yP(v) + 15.5, 'end'));
strainTicks.forEach(v => txt(labels, String(v), 1530, yS(v) + 15.5, 'start'));
xTicks.forEach(v => txt(labels, String(v), x(v), 1084, 'middle'));

// axis titles
txt(labels, 'Load Cycles (millions)', 822, 1151, 'middle');
txt(labels, 'Phase Angle (degrees)', 49, 616, 'middle', { rot: true });
txt(labels, 'Strain Amplitude (\u03bc\u03b5)', 1650, 610, 'middle', { rot: true });

// annotations
const ann = svg.append('g');
annotLabels.forEach((lab, i) => {
  const ax = x(annotCycles[i]);
  const high = i === 2;
  const base = high ? 734 : 805;
  const t = txt(ann, lab, ax, base, 'middle');
  if (!high) {
    const w = t.node().getBBox().width * 0.9 + 13;
    ann.insert('rect', 'text').attr('x', ax - w / 2).attr('y', base - 36).attr('width', w).attr('height', 48).attr('fill', '#fff');
  }
  const a0 = high ? 753 : 826, a1 = high ? 788 : 858;
  ann.append('line').attr('x1', ax).attr('x2', ax).attr('y1', a0).attr('y2', a1).attr('stroke', '#000').attr('stroke-width', 1.5);
  ann.append('path').attr('d', `M${ax - 6.5},${a1 - 11}L${ax},${a1}L${ax + 6.5},${a1 - 11}`)
    .attr('fill', 'none').attr('stroke', '#000').attr('stroke-width', 1.5);
});

// specimen label (top-left, partly cut off as in the original)
txt(svg, specimenLabel, 178, 66, 'end', { family: '"Liberation Serif", "Times New Roman", serif', size: 65, italic: true, sx: 0.92 });

// legend
const lg = svg.append('g');
lg.append('rect').attr('x', 848.5).attr('y', 7.5).attr('width', 650).attr('height', 142)
  .attr('fill', '#fff').attr('stroke', '#444').attr('stroke-width', 1.2);
lg.append('rect').attr('x', 949).attr('y', 43).attr('width', SQ).attr('height', SQ)
  .attr('fill', '#fff').attr('stroke', '#000').attr('stroke-width', 2.2);
lg.append('path').attr('d', diamondPath(3.6)).attr('transform', 'translate(952,117)')
  .attr('fill', '#fff').attr('stroke', ORANGE).attr('stroke-width', 2.2);
txt(lg, legendLabels[0], 976, 62, 'start');
txt(lg, legendLabels[1], 976, 133, 'start');
</script>
</body></html>
